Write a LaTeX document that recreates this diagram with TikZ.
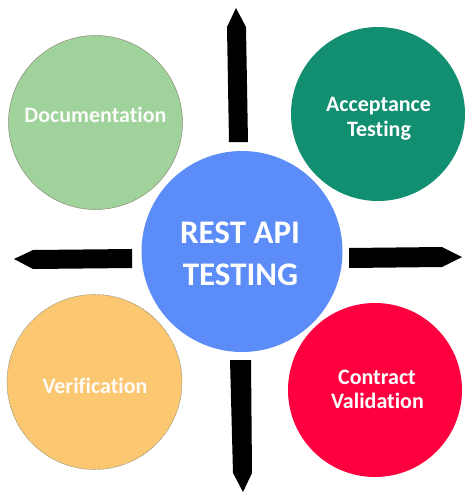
\documentclass[tikz,border=0pt]{standalone}
\usepackage{fontspec}
\setmainfont[Ligatures={NoCommon,NoRare,NoContextual}]{Carlito}
\definecolor{docgreen}{HTML}{A0D29B}
\definecolor{accgreen}{HTML}{128E71}
\definecolor{restblue}{HTML}{5B8CF7}
\definecolor{verorange}{HTML}{FCC771}
\definecolor{conred}{HTML}{FE003F}
\definecolor{rimgray}{HTML}{8C8C78}
\begin{document}
\begin{tikzpicture}[x=1pt,y=-1pt,
  bubble/.style={circle,inner sep=0pt,draw=none},
  label22/.style={anchor=base,inner sep=0pt,text=white,font=\fontsize{22}{26}\selectfont\bfseries},
  label33/.style={anchor=base,inner sep=0pt,text=white,font=\fontsize{33}{40}\selectfont\bfseries},
  pointer/.style={fill=black,draw=none}]
\useasboundingbox[fill=white] (0,0) rectangle (474,499);
% arrows
\fill[pointer] (236,8) -- (246,27) -- (248,142) -- (229,142) -- (227,27) -- cycle;
\fill[pointer] (230,360) -- (251,360) -- (252,473) -- (243,492) -- (233,473) -- cycle;
\fill[pointer] (132,249) -- (132,268) -- (33,269) -- (14,259) -- (33,250) -- cycle;
\fill[pointer] (349,248) -- (442,247) -- (462,257) -- (442,267) -- (349,268) -- cycle;
% circles
\node[bubble,fill=docgreen,draw=rimgray,line width=0.5pt,minimum size=174pt] (doc) at (95.5,122.5) {};
\node[bubble,fill=accgreen,minimum size=174pt] (acc) at (378,114) {};
\node[bubble,fill=restblue,minimum size=201pt] (rest) at (242,251.5) {};
\node[bubble,fill=verorange,draw=rimgray,line width=0.5pt,dash pattern=on 1pt off 0.6pt,minimum size=175pt] (ver) at (94.5,382) {};
\node[bubble,fill=conred,minimum size=174pt] (con) at (375,390) {};
% texts
\node[label22,text=white!94!docgreen] (doctext) at (95.5,122.7) {Documentation};
\node[label22] (acctext1) at (378.5,111) {Acceptance};
\node[label22] (acctext2) at (379,136.7) {Testing};
\node[label33] (resttext1) at (240,243.3) {REST API};
\node[label33] (resttext2) at (240.5,285) {TESTING};
\node[label22,text=white!94!verorange] (vertext) at (95,393.3) {Verification};
\node[label22] (context1) at (377,384) {Contract};
\node[label22] (context2) at (377.5,408.3) {Validation};
\end{tikzpicture}
\end{document}
